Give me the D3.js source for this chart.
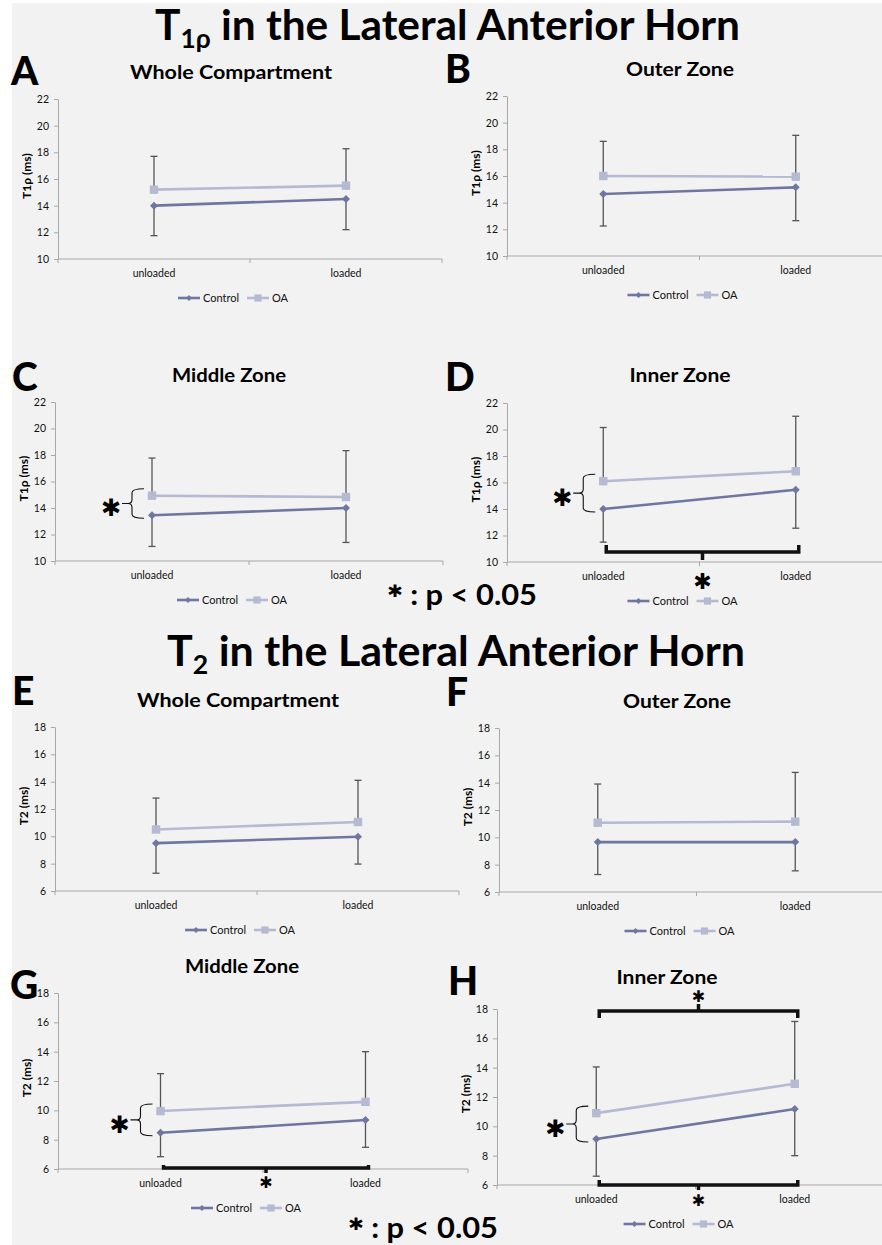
<!DOCTYPE html>
<html>
<head>
<meta charset="utf-8">
<style>
  body {
    margin: 0;
    background: #fff;
    font-family: Lato, "Open Sans", sans-serif;
  }
  svg {
    display: block;
  }
  .tick-label {
    font-size: 10.5px;
    fill: #111;
  }
  .cat-label {
    font-size: 10.5px;
    fill: #111;
    text-anchor: middle;
  }
  .y-label {
    font-size: 12px;
    font-weight: bold;
    text-anchor: middle;
  }
  .legend-label {
    font-size: 11px;
    fill: #111;
  }
  .panel-title {
    font-size: 18px;
    font-weight: bold;
    text-anchor: middle;
  }
  .panel-letter {
    font-size: 39px;
    font-weight: 900;
  }
  .main-title {
    font-size: 42px;
    font-weight: bold;
  }
  .star {
    font-family: "DejaVu Sans", sans-serif;
    text-anchor: middle;
    dominant-baseline: central;
  }
</style>
</head>
<body>
<script src="https://d3js.org/d3.v7.min.js"></script>
<script>

var categories = ["unloaded", "loaded"],
    seriesNames = ["Control", "OA"],
    panelLetters = ["A", "B", "C", "D", "E", "F", "G", "H"],
    panelTitles = ["Whole Compartment", "Outer Zone", "Middle Zone", "Inner Zone",
                   "Whole Compartment", "Outer Zone", "Middle Zone", "Inner Zone"],
    t1Ticks = [10, 12, 14, 16, 18, 20, 22],
    t2Ticks = [6, 8, 10, 12, 14, 16, 18];

// means, and the one-sided error bar ends (Control down, OA up), panels A..H
var controlMean = [[14.0, 14.5], [14.65, 15.15], [13.45, 14.0], [14.0, 15.45],
                   [9.5, 9.97], [9.65, 9.65], [8.47, 9.34], [9.14, 11.18]],
    controlLow  = [[11.75, 12.2], [12.25, 12.65], [11.1, 11.4], [11.5, 12.55],
                   [7.3, 7.97], [7.28, 7.55], [6.84, 7.48], [6.6, 8.0]],
    oaMean      = [[15.2, 15.5], [16.0, 15.95], [14.93, 14.83], [16.1, 16.85],
                   [10.5, 11.05], [11.07, 11.15], [9.95, 10.58], [10.9, 12.9]],
    oaHigh      = [[17.7, 18.27], [18.6, 19.05], [17.77, 18.33], [20.15, 21.0],
                   [12.8, 14.1], [13.9, 14.75], [12.5, 14.0], [14.05, 17.15]];

// significance marks
var groupSig = ["C", "D", "G", "H"],      // Control vs OA at unloaded
    loadSigBelow = ["D", "G", "H"],       // unloaded vs loaded, Control
    loadSigAbove = ["H"];                 // unloaded vs loaded, OA

// page layout for each panel
var layout = [
  {x0: 58,  x1: 442, top: 99,   bottom: 259,  tx: 231, ty: 79,  lx: 11,  ly: 85},
  {x0: 507, x1: 892, top: 96,   bottom: 256,  tx: 680, ty: 76,  lx: 445, ly: 83},
  {x0: 55,  x1: 443, top: 402,  bottom: 561,  tx: 229, ty: 382, lx: 12,  ly: 391},
  {x0: 507, x1: 892, top: 403,  bottom: 562,  tx: 680, ty: 382, lx: 445, ly: 391},
  {x0: 55,  x1: 459, top: 727,  bottom: 891,  tx: 238, ty: 707, lx: 12,  ly: 705},
  {x0: 499, x1: 894, top: 728,  bottom: 892,  tx: 677, ty: 708, lx: 446, ly: 706},
  {x0: 58,  x1: 468, top: 993,  bottom: 1169, tx: 242, ty: 973, lx: 10,  ly: 999},
  {x0: 497, x1: 894, top: 1009, bottom: 1185, tx: 667, ty: 984, lx: 448, ly: 995}
];
var titleWidths = {"Whole Compartment": 202, "Outer Zone": 108, "Middle Zone": 114, "Inner Zone": 101};
var belowBracket = {
  D: {ends: -17, bar: -10, tick: -2, star: 19, size: 22},
  G: {ends: -4, bar: -1, tick: 4, star: 13, size: 16},
  H: {ends: -5, bar: 0, tick: 5, star: 15, size: 16}
};

var width = 882,
    height = 1245,
    axisColor = "#a8a8a8",
    errColor = "#555",
    colors = {Control: "#6f76a0", OA: "#b5b9d2"};

var svg = d3.select("body").append("svg")
    .attr("width", width)
    .attr("height", height);

svg.append("rect")
    .attr("x", 12).attr("y", 3)
    .attr("width", width - 12).attr("height", height - 3)
    .attr("fill", "#f2f2f2");

function drawMarker(sel, name, s) {
  if (name === "Control") {
    sel.append("path")
        .attr("d", "M0," + (-s) + "L" + s + ",0L0," + s + "L" + (-s) + ",0Z")
        .attr("fill", colors.Control);
  } else {
    sel.append("rect")
        .attr("x", -s).attr("y", -s)
        .attr("width", 2 * s).attr("height", 2 * s)
        .attr("fill", colors.OA);
  }
}

function bracePath(xr, xm, xl, yt, yb) {
  var ym = (yt + yb) / 2, r = 4;
  return "M" + xr + "," + yt +
      " Q" + xm + "," + yt + " " + xm + "," + (yt + r) +
      " L" + xm + "," + (ym - r) +
      " Q" + xm + "," + ym + " " + (xm - 4) + "," + ym +
      " L" + xl + "," + ym +
      " M" + (xm - 4) + "," + ym +
      " Q" + xm + "," + ym + " " + xm + "," + (ym + r) +
      " L" + xm + "," + (yb - r) +
      " Q" + xm + "," + yb + " " + xr + "," + yb;
}

layout.forEach(function(p, i) {
  var letter = panelLetters[i],
      ticks = i < 4 ? t1Ticks : t2Ticks,
      g = svg.append("g");

  var y = d3.scaleLinear()
      .domain([ticks[0], ticks[ticks.length - 1]])
      .range([p.bottom, p.top]);
  var x = d3.scaleBand()
      .domain(categories)
      .range([p.x0, p.x1]);
  var cx = function(c) { return x(c) + x.bandwidth() / 2; };

  // y axis
  var yAxis = g.append("g")
      .attr("transform", "translate(" + p.x0 + ",0)")
      .call(d3.axisLeft(y).tickValues(ticks).tickSize(4).tickSizeOuter(0).tickPadding(5))
      .attr("font-family", null)
      .attr("font-size", null);
  yAxis.select(".domain").attr("stroke", axisColor);
  yAxis.selectAll(".tick line").attr("stroke", axisColor);
  yAxis.selectAll(".tick text").attr("class", "tick-label");

  // x axis
  g.append("line")
      .attr("x1", p.x0).attr("x2", p.x1)
      .attr("y1", p.bottom).attr("y2", p.bottom)
      .attr("stroke", axisColor);
  g.selectAll(".xtick")
      .data(categories.map(function(c) { return x(c); }).concat([p.x1]))
    .enter().append("line")
      .attr("x1", function(d) { return d; })
      .attr("x2", function(d) { return d; })
      .attr("y1", p.bottom).attr("y2", p.bottom + 4)
      .attr("stroke", axisColor);
  g.selectAll(".cat-label")
      .data(categories)
    .enter().append("text")
      .attr("class", "cat-label")
      .attr("x", cx)
      .attr("y", p.bottom + 18)
      .text(function(d) { return d; });

  // y label
  g.append("text")
      .attr("class", "y-label")
      .attr("transform", "translate(" + (p.x0 - 27) + "," + ((p.top + p.bottom) / 2 - 3) + ") rotate(-90)")
      .text(i < 4 ? "T1\u03c1 (ms)" : "T2 (ms)");

  var series = [
    {name: "Control", mean: controlMean[i], bar: controlLow[i]},
    {name: "OA", mean: oaMean[i], bar: oaHigh[i]}
  ];

  // error bars
  series.forEach(function(s) {
    var eb = g.append("g").attr("stroke", errColor).attr("stroke-width", 1.3);
    categories.forEach(function(c, j) {
      eb.append("line")
          .attr("x1", cx(c)).attr("x2", cx(c))
          .attr("y1", y(s.mean[j])).attr("y2", y(s.bar[j]));
      eb.append("line")
          .attr("x1", cx(c) - 3.5).attr("x2", cx(c) + 3.5)
          .attr("y1", y(s.bar[j])).attr("y2", y(s.bar[j]));
    });
  });

  // lines and markers
  var line = d3.line()
      .x(function(d, j) { return cx(categories[j]); })
      .y(function(d) { return y(d); });

  series.forEach(function(s) {
    g.append("path")
        .attr("d", line(s.mean))
        .attr("fill", "none")
        .attr("stroke", colors[s.name])
        .attr("stroke-width", 2.6);
    s.mean.forEach(function(v, j) {
      var m = g.append("g").attr("transform", "translate(" + cx(categories[j]) + "," + y(v) + ")");
      drawMarker(m, s.name, s.name === "Control" ? 4 : 4.2);
    });
  });

  // legend
  var lg = g.append("g")
      .attr("transform", "translate(" + ((p.x0 + p.x1) / 2 - 72) + "," + (p.bottom + 39) + ")");
  seriesNames.forEach(function(name, k) {
    var off = k * 69;
    lg.append("line")
        .attr("x1", off).attr("x2", off + 22)
        .attr("stroke", colors[name]).attr("stroke-width", 2.6);
    var m = lg.append("g").attr("transform", "translate(" + (off + 11) + ",0)");
    drawMarker(m, name, name === "Control" ? 3 : 3.6);
    lg.append("text")
        .attr("class", "legend-label")
        .attr("x", off + 25)
        .attr("y", 4)
        .text(name);
  });

  // titles
  g.append("text")
      .attr("class", "panel-title")
      .attr("x", p.tx).attr("y", p.ty)
      .attr("textLength", titleWidths[panelTitles[i]])
      .attr("lengthAdjust", "spacingAndGlyphs")
      .text(panelTitles[i]);
  g.append("text")
      .attr("class", "panel-letter")
      .attr("x", p.lx).attr("y", p.ly)
      .text(letter);

  // significance: brace between groups at unloaded
  if (groupSig.indexOf(letter) >= 0) {
    var c0 = cx(categories[0]),
        yt = y(oaMean[i][0]) - 7,
        yb = y(controlMean[i][0]) + 3;
    g.append("path")
        .attr("d", bracePath(c0 - 8, c0 - 20, c0 - 30, yt, yb))
        .attr("fill", "none")
        .attr("stroke", "#111")
        .attr("stroke-width", 1.1);
    g.append("text")
        .attr("class", "star")
        .attr("x", c0 - 41)
        .attr("y", (yt + yb) / 2 + 5)
        .attr("font-size", 24)
        .text("\u2731");
  }

  // significance: unloaded vs loaded
  var xa = cx(categories[0]) + 3,
      xb = cx(categories[1]) + 3,
      xm = (xa + xb) / 2;
  if (loadSigBelow.indexOf(letter) >= 0) {
    var b = belowBracket[letter];
    g.append("path")
        .attr("d", "M" + xa + "," + (p.bottom + b.ends) + "L" + xa + "," + (p.bottom + b.bar) +
                   "L" + xb + "," + (p.bottom + b.bar) + "L" + xb + "," + (p.bottom + b.ends) +
                   "M" + xm + "," + (p.bottom + b.bar) + "L" + xm + "," + (p.bottom + b.tick))
        .attr("fill", "none")
        .attr("stroke", "#111")
        .attr("stroke-width", 3.5);
    g.append("text")
        .attr("class", "star")
        .attr("x", xm)
        .attr("y", p.bottom + b.star)
        .attr("font-size", b.size)
        .text("\u2731");
  }
  if (loadSigAbove.indexOf(letter) >= 0) {
    g.append("path")
        .attr("d", "M" + xa + "," + (p.top + 9) + "L" + xa + "," + (p.top + 2) +
                   "L" + xb + "," + (p.top + 2) + "L" + xb + "," + (p.top + 9) +
                   "M" + xm + "," + (p.top + 2) + "L" + xm + "," + (p.top - 5))
        .attr("fill", "none")
        .attr("stroke", "#111")
        .attr("stroke-width", 3.5);
    g.append("text")
        .attr("class", "star")
        .attr("x", xm)
        .attr("y", p.top - 13)
        .attr("font-size", 16)
        .text("\u2731");
  }
});

// main titles
function mainTitle(x, yb, sub, len) {
  var t = svg.append("text")
      .attr("class", "main-title")
      .attr("x", x).attr("y", yb)
      .attr("textLength", len)
      .attr("lengthAdjust", "spacingAndGlyphs");
  t.append("tspan").text("T");
  t.append("tspan").attr("font-size", 26).attr("dy", 8).text(sub);
  t.append("tspan").attr("dy", -8).text(" in the Lateral Anterior Horn");
}
mainTitle(155, 40, "1\u03c1", 585);
mainTitle(167, 666, "2", 578);

// p-value keys
function pKey(x, yb) {
  var t = svg.append("text")
      .attr("x", x).attr("y", yb)
      .attr("font-size", 28)
      .attr("font-weight", "bold")
      .attr("textLength", 150)
      .attr("lengthAdjust", "spacingAndGlyphs");
  t.append("tspan")
      .attr("font-family", "DejaVu Sans")
      .attr("font-size", 17)
      .attr("dy", -8)
      .text("\u2731");
  t.append("tspan").attr("dy", 8).text(" :  p < 0.05");
}
pKey(387, 605);
pKey(348, 1238);

</script>
</body>
</html>
